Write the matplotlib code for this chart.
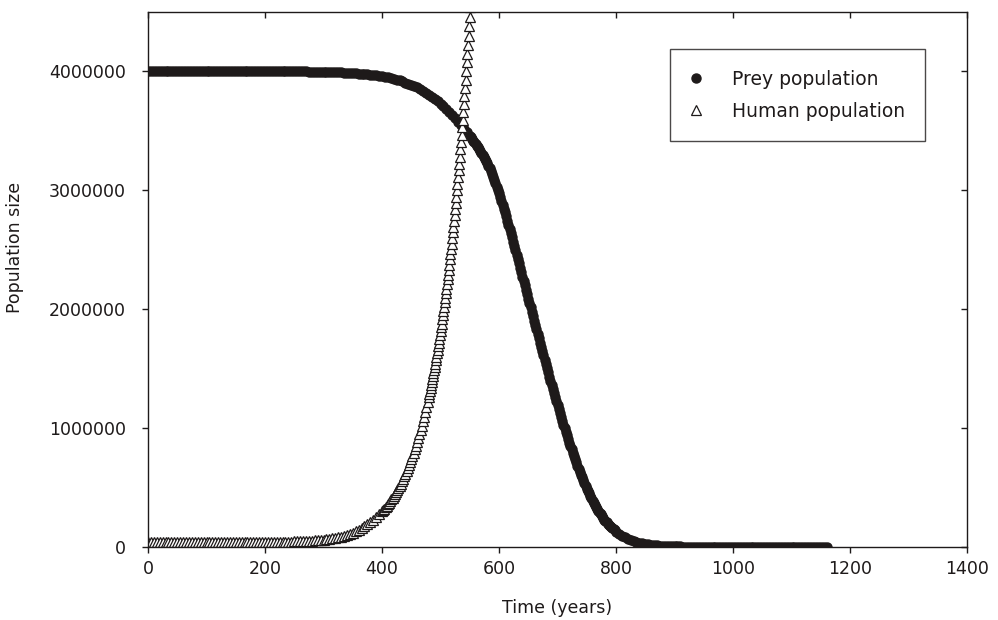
import numpy as np
import matplotlib
matplotlib.use("Agg")
import matplotlib.pyplot as plt

# Prey population (3 stretches with different time steps)
prey_years_early = np.arange(0, 550, 5)
prey_early = [
    4000000, 4000500, 4001000, 4001500, 4002000, 4002000, 4002500, 4003000, 4003000, 4003000,
    4003500, 4003500, 4003500, 4004000, 4004000, 4004000, 4004000, 4004000, 4004000, 4004000,
    4004000, 4004000, 4004000, 4004000, 4004000, 4004000, 4004000, 4004000, 4004000, 4004000,
    4004000, 4004000, 4004000, 4004000, 4004000, 4004000, 4004000, 4004000, 4003500, 4003500,
    4003500, 4003000, 4003000, 4003000, 4002500, 4002500, 4002000, 4002000, 4001500, 4001500,
    4001000, 4001000, 4000500, 4000000, 4000000, 3999500, 3999000, 3998500, 3998000, 3997500,
    3997000, 3996500, 3996000, 3995000, 3994000, 3993000, 3992000, 3990500, 3989000, 3987500,
    3986000, 3984000, 3982000, 3979500, 3977000, 3974500, 3972000, 3969000, 3966000, 3962000,
    3959000, 3955000, 3950000, 3944000, 3938000, 3931000, 3924000, 3916000, 3907000, 3898000,
    3888000, 3877000, 3865000, 3852000, 3838000, 3822000, 3806000, 3788000, 3770000, 3750000,
    3728000, 3706000, 3682000, 3658000, 3632000, 3606000, 3578000, 3549000, 3520000, 3489000,
]

prey_years_mid = np.arange(550, 800, 2)
prey_mid = [
    3458000, 3445000, 3432000, 3419000, 3405000, 3392000, 3377000, 3362000, 3348000, 3333000,
    3318000, 3300000, 3283000, 3265000, 3248000, 3230000, 3207000, 3184000, 3161000, 3138000,
    3115000, 3087000, 3059000, 3031000, 3003000, 2975000, 2943000, 2911000, 2879000, 2847000,
    2815000, 2780000, 2745000, 2710000, 2675000, 2640000, 2604000, 2568000, 2532000, 2496000,
    2460000, 2423000, 2386000, 2349000, 2312000, 2275000, 2238000, 2201000, 2164000, 2127000,
    2090000, 2053000, 2016000, 1979000, 1942000, 1905000, 1868000, 1831000, 1794000, 1757000,
    1720000, 1684000, 1648000, 1612000, 1576000, 1540000, 1505000, 1469000, 1434000, 1398000,
    1363000, 1329000, 1295000, 1260000, 1226000, 1192000, 1160000, 1127000, 1095000, 1062000,
    1030000, 1000000, 969000, 939000, 908000, 878000, 850000, 821000, 793000, 765000,
    737000, 711000, 685000, 660000, 634000, 608000, 585000, 562000, 538000, 515000,
    492000, 472000, 451000, 431000, 410000, 390000, 373000, 355000, 338000, 320000,
    303000, 289000, 274000, 260000, 245000, 231000, 220000, 208000, 197000, 185000,
    174000, 165000, 156000, 148000, 139000,
]

prey_years_late = np.arange(800, 1165, 5)
prey_late = [
    130000, 112000, 96000, 82000, 70000, 60000, 51000, 43500, 37000, 31500,
    27000, 23000, 19500, 16500, 14000, 12000, 10000, 8700, 7500, 6500,
    5600, 4900, 4300, 3800, 3400, 3000, 2700, 2400, 2200, 2000,
    1800, 1700, 1600, 1500, 1400, 1300, 1250, 1200, 1150, 1100,
    1050, 1000, 960, 920, 890, 860, 830, 800, 780, 760,
    740, 720, 700, 680, 660, 640, 620, 610, 600, 590,
    580, 570, 560, 550, 540, 530, 520, 510, 500, 490,
    480, 470, 460,
]

# Human population
human_years_early = np.arange(0, 400, 5)
human_early = [
    38000, 38100, 38200, 38300, 38400, 38500, 38600, 38700, 38800, 38900,
    39000, 39100, 39200, 39300, 39400, 39500, 39600, 39700, 39800, 39900,
    40000, 40100, 40200, 40300, 40400, 40500, 40600, 40700, 40800, 40900,
    41000, 41100, 41200, 41300, 41400, 41500, 41600, 41700, 41800, 42000,
    42300, 42500, 42800, 43100, 43400, 43800, 44200, 44700, 45300, 46000,
    46700, 47600, 48500, 49600, 50900, 52300, 53900, 55700, 57800, 60100,
    62800, 65800, 69200, 73000, 77400, 82300, 88000, 94400, 101800, 111300,
    121900, 133300, 145900, 159600, 174700, 191100, 209200, 228900, 250400, 274000,
]

human_years_mid = np.arange(400, 480, 2)
human_mid = [
    299800, 310800, 322200, 334000, 346200, 358900, 372100, 385700, 399800, 414500,
    429700, 445400, 461800, 478700, 496200, 514400, 533300, 552800, 573100, 594100,
    615900, 638400, 661800, 686100, 711200, 737300, 764300, 792300, 821300, 851400,
    882600, 915000, 948500, 983300, 1019300, 1056700, 1095400, 1135500, 1177100, 1220200,
]

human_years_late = np.arange(480, 556, 1)
human_late = [
    1265400, 1288400, 1311800, 1335600, 1359900, 1384600, 1409700, 1435300, 1461400, 1487900,
    1514900, 1542400, 1570400, 1598900, 1627900, 1657500, 1687600, 1718200, 1749400, 1781200,
    1813500, 1846400, 1879900, 1914100, 1948800, 1984200, 2020200, 2056900, 2094300, 2132300,
    2171000, 2210400, 2250600, 2291400, 2333000, 2375400, 2418500, 2462400, 2507100, 2552600,
    2599000, 2646200, 2694300, 2743200, 2793000, 2843700, 2895300, 2947900, 3001400, 3055900,
    3111400, 3167900, 3225400, 3284000, 3343600, 3404300, 3466100, 3529100, 3593200, 3658400,
    3724800, 3792400, 3861300, 3931400, 4002800, 4075500, 4149500, 4224800, 4301500, 4379600,
    4459100, 4540100, 4622500, 4706400, 4791900, 4878900,
]

x_ticks = [0, 200, 400, 600, 800, 1000, 1200, 1400]
y_ticks = [0, 1000000, 2000000, 3000000, 4000000]

prey_years = np.concatenate([prey_years_early, prey_years_mid, prey_years_late])
prey = np.array(prey_early + prey_mid + prey_late)
human_years = np.concatenate([human_years_early, human_years_mid, human_years_late])
human = np.array(human_early + human_mid + human_late)

plt.rcParams['font.family'] = ['DejaVu Sans']
ink = '#1e1a1a'

fig = plt.figure(figsize=(9.98, 6.2), dpi=100)
ax = fig.add_axes([148 / 998, 1 - 547 / 620, 819 / 998, 535 / 620])

ax.plot(prey_years, prey, linestyle='none', marker='o', markersize=6.5,
        color=ink, markeredgecolor=ink, label='Prey population')
ax.plot(human_years, human, linestyle='none', marker='^', markersize=7,
        markerfacecolor='white', markeredgecolor=ink, markeredgewidth=0.9,
        label='Human population')

ax.set_xlim(0, 1400)
ax.set_ylim(0, 4500000)
ax.set_xticks(x_ticks)
ax.set_yticks(y_ticks)
ax.set_xticklabels([str(v) for v in x_ticks])
ax.set_yticklabels([str(v) for v in y_ticks])

ax.tick_params(axis='both', which='both', direction='out', length=4, width=1,
               labelsize=12.5, colors=ink)
ax.tick_params(axis='y', pad=12)
ax.tick_params(axis='x', pad=5)
ax.tick_params(top=True, right=True, labeltop=False, labelright=False)
# top/right ticks point inward
for t in ax.xaxis.get_major_ticks():
    t.tick2line.set_marker(3)
for t in ax.yaxis.get_major_ticks():
    t.tick2line.set_marker(0)

for s in ax.spines.values():
    s.set_linewidth(1)
    s.set_color(ink)

ax.set_xlabel('Time (years)', fontsize=12.5, color=ink)
ax.set_ylabel('Population size', fontsize=12.5, color=ink)
ax.xaxis.set_label_coords(0.5, -0.098)
ax.yaxis.set_label_coords(-0.151, 0.559)

leg = ax.legend(loc='upper left', bbox_to_anchor=(0.637, 0.931), fontsize=13.5,
                frameon=True, fancybox=False, borderpad=1.1, labelspacing=0.7,
                handlelength=0.6, handletextpad=1.6, borderaxespad=0)
leg.get_frame().set_edgecolor(ink)
leg.get_frame().set_linewidth(1)
for txt in leg.get_texts():
    txt.set_color(ink)

fig.savefig('out.png', dpi=100)
